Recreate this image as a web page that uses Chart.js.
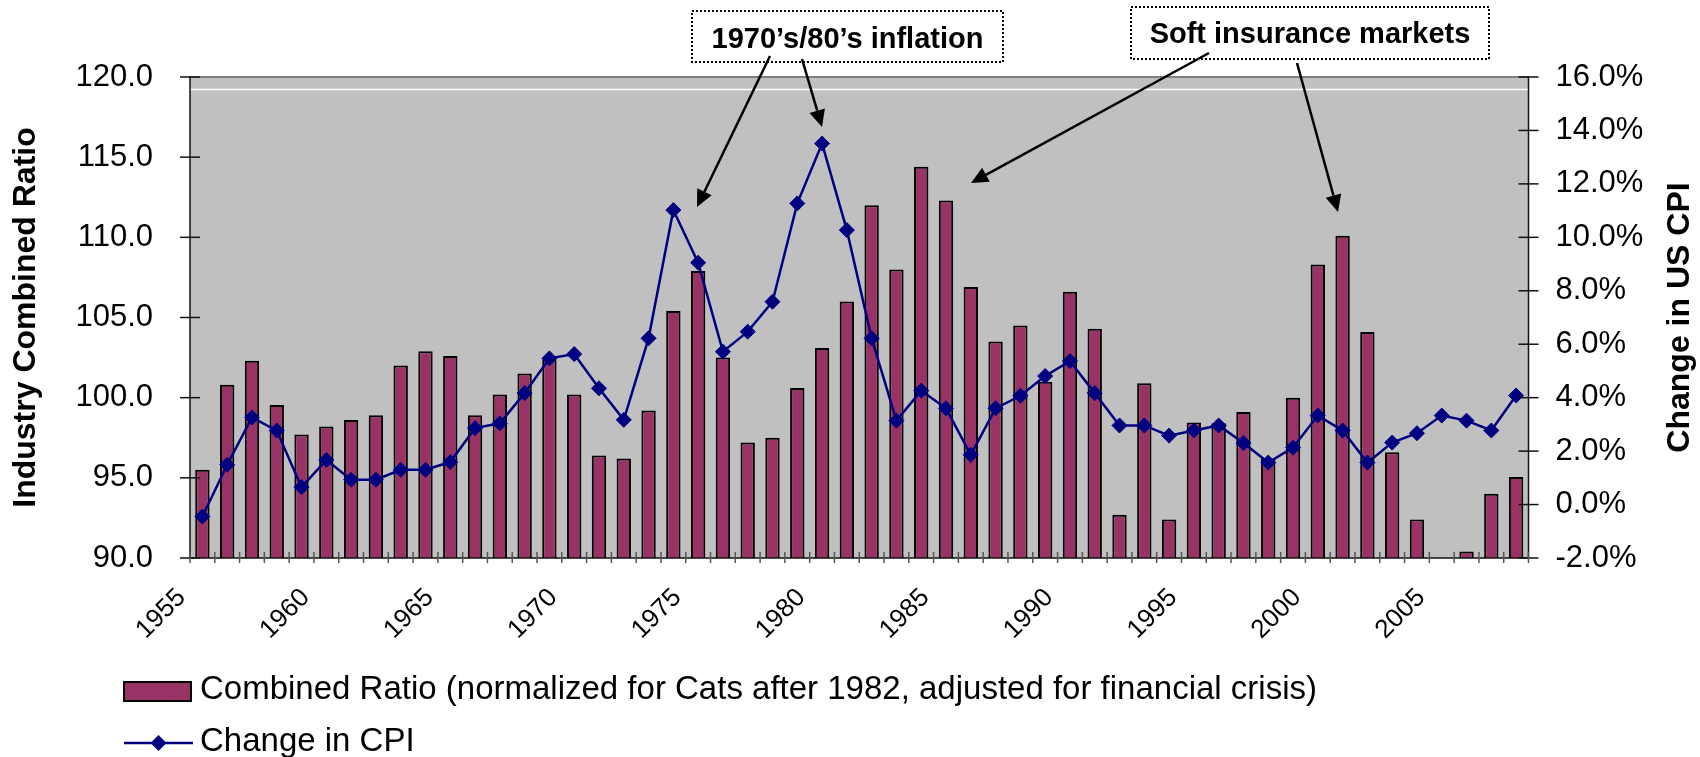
<!DOCTYPE html>
<html>
<head>
<meta charset="utf-8">
<title>Industry Combined Ratio vs Change in CPI</title>
<script src="https://cdn.jsdelivr.net/npm/chart.js@4.4.1/dist/chart.umd.min.js"></script>
<style>
  html, body { margin: 0; padding: 0; background: #fff; }
  canvas { display: block; }
</style>
</head>
<body>
<canvas id="chart" width="1700" height="757"></canvas>
<script>
// values, one per year 1955-2008
var years = [1955, 1956, 1957, 1958, 1959, 1960, 1961, 1962, 1963, 1964,
             1965, 1966, 1967, 1968, 1969, 1970, 1971, 1972, 1973, 1974,
             1975, 1976, 1977, 1978, 1979, 1980, 1981, 1982, 1983, 1984,
             1985, 1986, 1987, 1988, 1989, 1990, 1991, 1992, 1993, 1994,
             1995, 1996, 1997, 1998, 1999, 2000, 2001, 2002, 2003, 2004,
             2005, 2006, 2007, 2008];

var combinedRatio = [95.5, 100.8, 102.3, 99.55, 97.7, 98.2, 98.6, 98.9, 102.0, 102.9,
                     102.6, 98.9, 100.2, 101.5, 102.4, 100.2, 96.4, 96.2, 99.2, 105.4,
                     107.9, 102.5, 97.2, 97.5, 100.6, 103.1, 106.0, 112.0, 108.0, 114.4,
                     112.3, 106.9, 103.5, 104.5, 101.0, 106.6, 104.3, 92.7, 100.9, 92.4,
                     98.45, 98.4, 99.1, 96.2, 100.0, 108.3, 110.1, 104.1, 96.6, 92.4,
                     null, 90.4, 94.0, 95.05];

var cpiChange = [-0.45, 1.49, 3.26, 2.77, 0.65, 1.67, 0.93, 0.93, 1.3, 1.3,
                 1.59, 2.86, 3.04, 4.17, 5.47, 5.63, 4.35, 3.17, 6.22, 11.02,
                 9.05, 5.72, 6.47, 7.59, 11.27, 13.51, 10.27, 6.22, 3.14, 4.26,
                 3.6, 1.86, 3.6, 4.07, 4.81, 5.37, 4.17, 2.96, 2.96, 2.58,
                 2.77, 2.96, 2.3, 1.57, 2.13, 3.33, 2.77, 1.57, 2.32, 2.67,
                 3.33, 3.14, 2.77, 4.08];

var yearLabels = [1955, 1960, 1965, 1970, 1975, 1980, 1985, 1990, 1995, 2000, 2005];
var ratioTicks = [90, 95, 100, 105, 110, 115, 120];
var cpiTicks = [-2, 0, 2, 4, 6, 8, 10, 12, 14, 16];

var FONT = "'Liberation Sans', Arial, sans-serif";

// callout boxes and arrows above the plot
var callouts = [
    {text: "1970\u2019s/80\u2019s inflation", box: [692, 11, 1003, 62], baseline: 48,
     arrows: [[770, 56, 697, 207], [802, 59, 822, 127]]},
    {text: "Soft insurance markets", box: [1131, 7, 1489, 59], baseline: 43,
     arrows: [[1209, 53, 971, 183], [1297, 63, 1338, 212]]}
];

function line(ctx, x0, y0, x1, y1) {
    ctx.beginPath();
    ctx.moveTo(x0, y0);
    ctx.lineTo(x1, y1);
    ctx.stroke();
}

function arrow(ctx, x0, y0, x1, y1) {
    var ang = Math.atan2(y1 - y0, x1 - x0);
    var len = 17, half = 8;
    var bx = x1 - Math.cos(ang) * len, by = y1 - Math.sin(ang) * len;
    ctx.lineWidth = 2.5;
    line(ctx, x0, y0, bx, by);
    ctx.beginPath();
    ctx.moveTo(x1, y1);
    ctx.lineTo(bx + Math.sin(ang) * half, by - Math.cos(ang) * half);
    ctx.lineTo(bx - Math.sin(ang) * half, by + Math.cos(ang) * half);
    ctx.closePath();
    ctx.fill();
}

var frame = {
    id: 'frame',
    beforeDraw: function(chart) {
        var ctx = chart.ctx, a = chart.chartArea;
        ctx.save();
        ctx.fillStyle = '#ffffff';
        ctx.fillRect(0, 0, chart.width, chart.height);
        ctx.fillStyle = '#c0c0c0';
        ctx.fillRect(a.left, a.top, a.right - a.left, a.bottom - a.top);
        ctx.strokeStyle = '#ffffff';
        ctx.lineWidth = 1.5;
        line(ctx, a.left, a.top + 12.5, a.right, a.top + 12.5);
        ctx.restore();
    },
    afterDatasetsDraw: function(chart) {
        var ctx = chart.ctx, a = chart.chartArea;
        var x = chart.scales.x, y = chart.scales.y, y1 = chart.scales.y1;
        ctx.save();
        ctx.strokeStyle = '#808080';
        ctx.lineWidth = 2;
        line(ctx, a.left, a.top, a.right, a.top);

        ctx.strokeStyle = '#111';
        ctx.lineWidth = 1.5;
        line(ctx, a.left, a.top - 1, a.left, a.bottom);
        line(ctx, a.right, a.top - 1, a.right, a.bottom);
        line(ctx, a.left, a.bottom, a.right, a.bottom);

        y.ticks.forEach(function(t) {
            var py = y.getPixelForValue(t.value);
            line(ctx, a.left - 10, py, a.left + 10, py);
        });
        y1.ticks.forEach(function(t) {
            var py = y1.getPixelForValue(t.value);
            line(ctx, a.right - 10, py, a.right + 10, py);
        });

        ctx.strokeStyle = '#555';
        var step = x.getPixelForValue(1) - x.getPixelForValue(0);
        for (var i = 0; i <= years.length; i++) {
            var px = x.getPixelForValue(0) - step / 2 + i * step;
            line(ctx, px, a.bottom - 6, px, a.bottom + 5);
        }
        ctx.restore();
    },
    afterDraw: function(chart) {
        var ctx = chart.ctx, a = chart.chartArea;
        var bars = chart.data.datasets[0], cpi = chart.data.datasets[1];
        ctx.save();

        // right axis title, reading bottom to top like the left one
        ctx.translate(1680, (a.top + a.bottom) / 2);
        ctx.rotate(-Math.PI / 2);
        ctx.font = 'bold 32px ' + FONT;
        ctx.fillStyle = '#000';
        ctx.textAlign = 'center';
        ctx.textBaseline = 'middle';
        ctx.fillText('Change in US CPI', 0, 0);
        ctx.setTransform(1, 0, 0, 1, 0, 0);

        // callouts
        callouts.forEach(function(c) {
            var b = c.box;
            ctx.fillStyle = '#fff';
            ctx.fillRect(b[0], b[1], b[2] - b[0], b[3] - b[1]);
            ctx.setLineDash([2, 2]);
            ctx.strokeStyle = '#000';
            ctx.lineWidth = 2;
            ctx.strokeRect(b[0], b[1], b[2] - b[0], b[3] - b[1]);
            ctx.setLineDash([]);
            ctx.fillStyle = '#000';
            ctx.font = 'bold 29px ' + FONT;
            ctx.textAlign = 'center';
            ctx.textBaseline = 'alphabetic';
            ctx.fillText(c.text, (b[0] + b[2]) / 2, c.baseline);
            c.arrows.forEach(function(ar) {
                arrow(ctx, ar[0], ar[1], ar[2], ar[3]);
            });
        });

        // legend, two rows at the bottom left
        ctx.font = '33px ' + FONT;
        ctx.textAlign = 'left';
        ctx.textBaseline = 'alphabetic';
        ctx.fillStyle = bars.backgroundColor;
        ctx.fillRect(124, 682, 67, 19);
        ctx.strokeStyle = '#000';
        ctx.lineWidth = 2;
        ctx.strokeRect(124, 682, 67, 19);
        ctx.fillStyle = '#000';
        ctx.fillText(bars.label, 200, 699);

        ctx.strokeStyle = cpi.borderColor;
        ctx.lineWidth = 2.5;
        line(ctx, 124, 743, 193, 743);
        ctx.fillStyle = cpi.borderColor;
        ctx.beginPath();
        ctx.moveTo(158.5, 735);
        ctx.lineTo(166.5, 743);
        ctx.lineTo(158.5, 751);
        ctx.lineTo(150.5, 743);
        ctx.closePath();
        ctx.fill();
        ctx.fillStyle = '#000';
        ctx.fillText(cpi.label, 200, 751);

        ctx.restore();
    }
};

var ctx = document.getElementById('chart').getContext('2d');
var chart = new Chart(ctx, {
    type: 'bar',
    data: {
        labels: years,
        datasets: [
            {
                type: 'bar',
                label: 'Combined Ratio (normalized for Cats after 1982, adjusted for financial crisis)',
                data: combinedRatio,
                yAxisID: 'y',
                backgroundColor: '#993366',
                borderColor: '#000000',
                borderWidth: 2,
                barPercentage: 0.58,
                categoryPercentage: 1.0,
                order: 1
            },
            {
                type: 'line',
                label: 'Change in CPI',
                data: cpiChange,
                yAxisID: 'y1',
                borderColor: '#000080',
                backgroundColor: '#000080',
                borderWidth: 2.5,
                tension: 0,
                pointStyle: 'rectRot',
                pointRadius: 7.5,
                pointBorderWidth: 1,
                pointBackgroundColor: '#000080',
                pointBorderColor: '#000080',
                order: 0
            }
        ]
    },
    options: {
        responsive: false,
        animation: false,
        devicePixelRatio: 1,
        layout: {padding: {top: 77, left: 0, right: 0, bottom: 0}},
        plugins: {
            legend: {display: false},
            tooltip: {enabled: false}
        },
        scales: {
            x: {
                type: 'category',
                offset: true,
                grid: {display: false, drawTicks: false},
                border: {display: false},
                ticks: {
                    autoSkip: false,
                    minRotation: 45,
                    maxRotation: 45,
                    padding: 24.5,
                    labelOffset: -20.7,
                    color: '#000',
                    font: {family: FONT, size: 26},
                    callback: function(value, index) {
                        var yr = years[index];
                        return yearLabels.indexOf(yr) >= 0 ? String(yr) : '';
                    }
                },
                afterFit: function(scale) { scale.height = 199; }
            },
            y: {
                position: 'left',
                min: 90,
                max: 120,
                grid: {display: false, drawTicks: false},
                border: {display: false},
                afterBuildTicks: function(scale) {
                    scale.ticks = ratioTicks.map(function(v) { return {value: v}; });
                },
                ticks: {
                    padding: 37,
                    color: '#000',
                    font: {family: FONT, size: 31},
                    callback: function(v) { return Number(v).toFixed(1); }
                },
                title: {
                    display: true,
                    text: 'Industry Combined Ratio',
                    color: '#000',
                    font: {family: FONT, size: 32, weight: 'bold'},
                    padding: {top: 7, bottom: 0}
                },
                afterFit: function(scale) { scale.width = 190; }
            },
            y1: {
                position: 'right',
                min: -2,
                max: 16,
                grid: {display: false, drawTicks: false},
                border: {display: false},
                afterBuildTicks: function(scale) {
                    scale.ticks = cpiTicks.map(function(v) { return {value: v}; });
                },
                ticks: {
                    padding: 27,
                    color: '#000',
                    font: {family: FONT, size: 31},
                    callback: function(v) { return Number(v).toFixed(1) + '%'; }
                },
                afterFit: function(scale) { scale.width = 171.5; }
            }
        }
    },
    plugins: [frame]
});
</script>
</body>
</html>
